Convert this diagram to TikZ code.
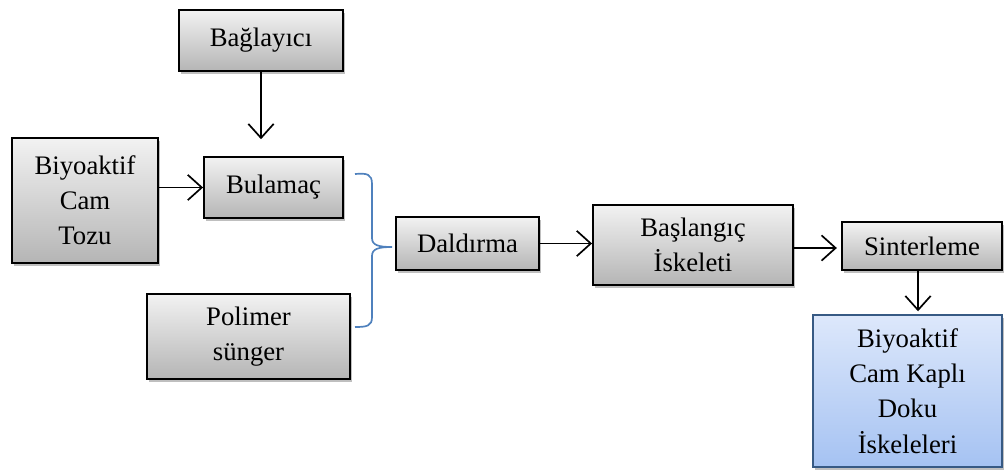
\documentclass[tikz,border=0pt]{standalone}
\usepackage{fontspec}
\setmainfont{Liberation Serif}
\usetikzlibrary{arrows.meta,shadows}
\definecolor{kutuust}{HTML}{F2F2F2}
\definecolor{kutualt}{HTML}{B5B5B5}
\definecolor{maviust}{HTML}{DDE8FB}
\definecolor{mavialt}{HTML}{A5C2F2}
\definecolor{mavicizgi}{HTML}{4F81BD}
\tikzset{
  kutu/.style={draw=black,line width=1.3pt,top color=kutuust,bottom color=kutualt,
    align=center,inner sep=2pt,
    font=\rmfamily\fontsize{19}{25}\selectfont,
    drop shadow={shadow xshift=1.5pt,shadow yshift=-2pt,opacity=0.25,fill=black}},
  mavikutu/.style={kutu,draw=mavicizgi!70!black,top color=maviust,bottom color=mavialt},
  ok/.style={line width=1.2pt,-{Straight Barb[length=10pt,width=18pt,line width=1.2pt]}}
}
\begin{document}
\begin{tikzpicture}[x=0.025cm,y=-0.025cm]
  \useasboundingbox (0,0) rectangle (1004,469);

  % kutular
  \node[kutu,minimum width=4.1cm,minimum height=1.525cm] (bag) at (261,40.5) {Bağlayıcı};
  \node[kutu,minimum width=3.65cm,minimum height=3.125cm] (toz) at (85,200.5) {Biyoaktif\\Cam\\Tozu};
  \node[kutu,minimum width=3.475cm,minimum height=1.525cm] (bul) at (273.5,187.5) {Bulamaç};
  \node[kutu,minimum width=5.075cm,minimum height=2.125cm] (pol) at (248.5,336.5) {Polimer\\sünger};
  \node[kutu,minimum width=3.575cm,minimum height=1.325cm] (dal) at (467.5,243.5) {Daldırma};
  \node[kutu,minimum width=5cm,minimum height=2cm] (bas) at (693,245) {Başlangıç\\İskeleti};
  \node[kutu,minimum width=4cm,minimum height=1.2cm] (sin) at (922,246) {Sinterleme};
  \node[mavikutu,minimum width=4.725cm,minimum height=3.8cm] (son) at (907.5,391) {Biyoaktif\\Cam Kaplı\\Doku\\İskeleleri};

  % oklar
  \draw[ok,shorten >=12pt] (bag.south) -- (bul.north -| bag.south);
  \draw[ok] (toz.east |- bul.west) -- (bul.west);
  \draw[ok] (dal.east) -- (dal.east -| bas.west);
  \draw[ok,shorten >=3pt] (bas.east |- 0,248) -- (sin.west |- 0,248);
  \draw[ok,shorten >=2pt] (918,0 |- sin.south) -- (918,0 |- son.north);

  % parantez
  \coordinate (uc) at (392,247);
  \draw[mavicizgi,line width=1.2pt] (355,174) .. controls (367,173) and (372,174) .. (372,184)
    -- (372,238) .. controls (372,245) and (378,247) .. (uc)
    .. controls (378,247) and (372,249) .. (372,256)
    -- (372,317) .. controls (372,326) and (367,327) .. (355,327);
\end{tikzpicture}
\end{document}
